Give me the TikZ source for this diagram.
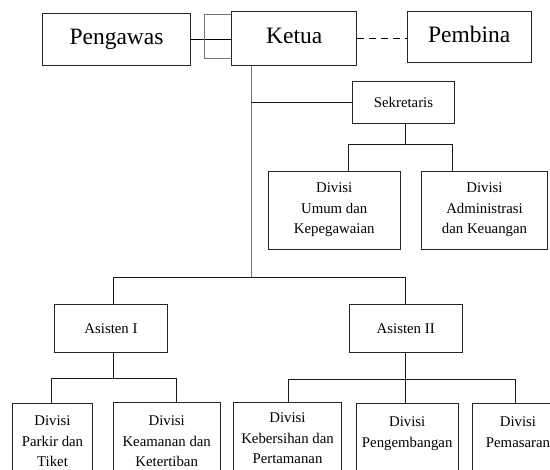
\documentclass[tikz,border=0pt]{standalone}
\usepackage{fontspec}
\setmainfont{Liberation Serif}
\begin{document}
\begin{tikzpicture}[x=1pt,y=-1pt,
  box/.style={draw=black!85,line width=0.9pt,inner sep=0pt,anchor=center},
  big/.style={box,font=\fontsize{23.5}{28}\selectfont,text height=15.7pt,text depth=5pt},
  small/.style={box,font=\fontsize{14.8}{20.5}\selectfont,align=center},
  lbl/.style={inner sep=0pt,anchor=north,align=center,font=\fontsize{14.8}{20.5}\selectfont},
  conn/.style={draw=black!90,line width=0.8pt},
  grayconn/.style={draw=black!55,line width=1pt},
]
\useasboundingbox (0,0) rectangle (550,470);
\clip (0,0) rectangle (550,470);

% top row
\node[big,minimum width=147.5pt,minimum height=52.4pt] (peng) at (116.5,39.5) {Pengawas};
\node[big,minimum width=124.7pt,minimum height=54.4pt] (ketua) at (294.2,38.5) {Ketua};
\node[big,minimum width=123.7pt,minimum height=51.3pt] (pemb) at (469.2,37.3) {Pembina};

% sekretaris branch
\node[small,minimum width=102.6pt,minimum height=41.6pt] (sek) at (403.5,102.5) {Sekretaris};
\node[small,minimum width=131.7pt,minimum height=78.3pt] (umum) at (334.2,210.2) {Divisi\\Umum dan\\Kepegawaian};
\node[small,minimum width=126.4pt,minimum height=78.3pt] (admin) at (484.5,210.2) {Divisi\\Administrasi\\dan Keuangan};

% assistants
\node[small,minimum width=113.4pt,minimum height=48pt] (as1) at (111,328.3) {Asisten I};
\node[small,minimum width=112.6pt,minimum height=48pt] (as2) at (405.7,328.3) {Asisten II};

% bottom divisions (boxes run past the lower edge)
\node[box,anchor=north,minimum width=79.5pt,minimum height=95pt] (parkir) at (52.5,403) {};
\node[box,anchor=north,minimum width=106.7pt,minimum height=95pt] (keam) at (166.7,402) {};
\node[box,anchor=north,minimum width=108.4pt,minimum height=95pt] (keb) at (287.5,402.5) {};
\node[box,anchor=north,minimum width=102.3pt,minimum height=95pt] (pengb) at (407.2,403.5) {};
\node[box,anchor=north,minimum width=90pt,minimum height=95pt] (pem) at (517.7,403.3) {};

\node[lbl] (parkirT) at (52.5,416) {Divisi\\Parkir dan\\Tiket};
\node[lbl] (keamT) at (166.7,416) {Divisi\\Keamanan dan\\Ketertiban};
\node[lbl] (kebT) at (287.5,413) {Divisi\\Kebersihan dan\\Pertamanan};
\node[lbl] (pengbT) at (407.2,417) {Divisi\\Pengembangan};
\node[lbl] (pemT) at (518,417) {Divisi\\Pemasaran};

% top connectors
\draw[black,line width=1.5pt] (peng.east) -- (peng.east -| ketua.west);
\coordinate (b1) at (204,14.5);
\coordinate (b2) at (204,59);
\draw[grayconn] (b1 -| ketua.west) -- (b1) -- (b2) -- (b2 -| ketua.west);
\draw[black,line width=1.5pt,dash pattern=on 7pt off 5pt] (ketua.east) -- (ketua.east -| pemb.west);

% trunk from Ketua
\coordinate (jA) at (251,277.3);
\draw[grayconn] (ketua.south -| jA) -- (jA);
\draw[conn] (jA |- sek.west) -- (sek.west);

% sekretaris to divisions
\coordinate (jS) at (405.7,144);
\coordinate (jSL) at (348.3,144);
\coordinate (jSR) at (452.7,144);
\draw[conn] (sek.south -| jS) -- (jS);
\draw[conn] (umum.north -| jSL) -- (jSL) -- (jSR) -- (admin.north -| jSR);

% to assistants
\coordinate (jAL) at (113,277.3);
\coordinate (jAR) at (405.7,277.3);
\draw[conn] (as1.north -| jAL) -- (jAL) -- (jAR) -- (as2.north);

% Asisten I divisions
\coordinate (j1) at (113,378.7);
\coordinate (j1L) at (51,378.7);
\coordinate (j1R) at (176.5,378.7);
\draw[conn] (as1.south -| j1) -- (j1);
\draw[conn] (parkir.north -| j1L) -- (j1L) -- (j1R) -- (keam.north -| j1R);

% Asisten II divisions
\coordinate (j2L) at (288.3,379);
\coordinate (j2R) at (514.9,379);
\draw[conn] (as2.south) -- (as2.south |- pengb.north);
\draw[conn] (keb.north -| j2L) -- (j2L) -- (j2R) -- (pem.north -| j2R);
\end{tikzpicture}
\end{document}
